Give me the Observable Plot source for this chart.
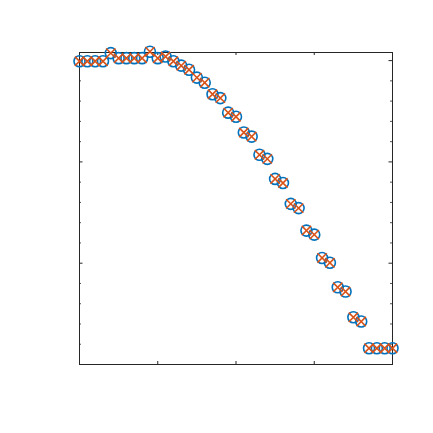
<!DOCTYPE html>
<html>
<head>
<meta charset="utf-8">
<script src="https://cdn.jsdelivr.net/npm/d3@7"></script>
<script src="https://cdn.jsdelivr.net/npm/@observablehq/plot@0.6"></script>
<style>
  html, body { margin: 0; padding: 0; background: #fff; }
  #chart svg { display: block; }
</style>
</head>
<body>
<div id="chart"></div>
<script>
// Data
const xValues = [0,1,2,3,4,5,6,7,8,9,10,11,12,13,14,15,16,17,18,19,20,21,22,23,24,25,26,27,28,29,30,31,32,33,34,35,36,37,38,39,40];
const yValues = [1.497,1.497,1.497,1.497,1.537,1.512,1.512,1.512,1.512,1.544,1.512,1.520,1.497,1.475,1.455,1.416,1.391,1.334,1.315,1.243,1.223,1.145,1.125,1.035,1.015,0.916,0.896,0.793,0.772,0.661,0.641,0.526,0.502,0.381,0.360,0.233,0.212,0.080,0.080,0.080,0.080];
const xTicks = [0, 10, 20, 30, 40];
const yMajorTicks = [0, 0.5, 1, 1.5];
const yMinorTicks = [0.1,0.2,0.3,0.4,0.6,0.7,0.8,0.9,1.1,1.2,1.3,1.4];

const data = xValues.map((x, i) => ({x, y: yValues[i]}));

const W = 433, H = 433;
const mL = 79, mR = 41, mT = 52, mB = 69;
const pw = W - mL - mR, ph = H - mT - mB;
const axisColor = "#262626";

const chart = Plot.plot({
  width: W,
  height: H,
  marginLeft: mL,
  marginRight: mR,
  marginTop: mT,
  marginBottom: mB,
  x: {domain: [0, 40], axis: null},
  y: {domain: [0, 1.54], axis: null},
  marks: [
    Plot.ruleX(xTicks, {x: d => d, insetTop: ph - 3, stroke: axisColor, strokeWidth: 1}),
    Plot.ruleX(xTicks, {x: d => d, insetBottom: ph - 3, stroke: axisColor, strokeWidth: 1}),
    Plot.ruleY(yMajorTicks, {y: d => d, insetRight: pw - 3.5, stroke: axisColor, strokeWidth: 1}),
    Plot.ruleY(yMajorTicks, {y: d => d, insetLeft: pw - 3.5, stroke: axisColor, strokeWidth: 1}),
    Plot.ruleY(yMinorTicks, {y: d => d, insetRight: pw - 2, stroke: axisColor, strokeWidth: 0.8}),
    Plot.ruleY(yMinorTicks, {y: d => d, insetLeft: pw - 2, stroke: axisColor, strokeWidth: 0.8}),
    Plot.frame({stroke: axisColor, strokeWidth: 1}),
    Plot.dot(data, {x: "x", y: "y", r: 5.5, symbol: "circle", stroke: "#0072BD", strokeWidth: 1.6, fill: "none", clip: false}),
    Plot.dot(data, {x: "x", y: "y", r: 4.3, symbol: "times", stroke: "#D95319", strokeWidth: 1.6, fill: "none", clip: false})
  ]
});
document.getElementById("chart").appendChild(chart);
</script>
</body>
</html>
